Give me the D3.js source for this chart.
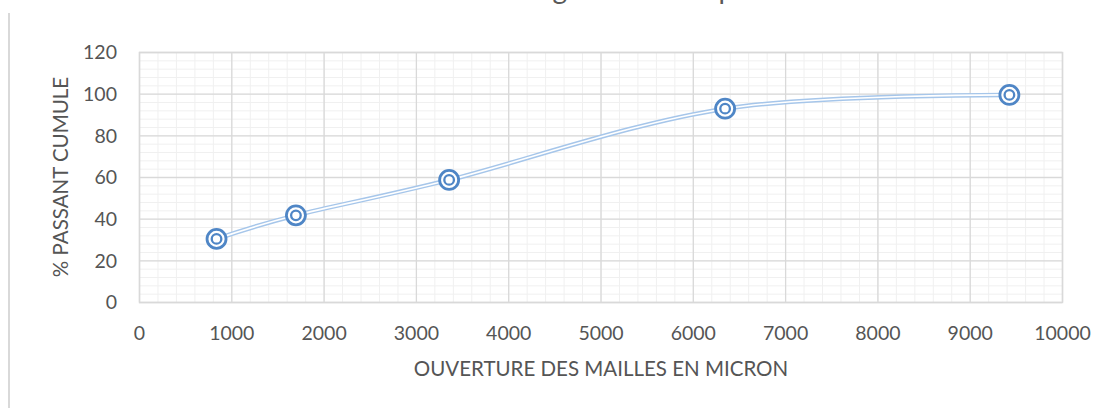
<!DOCTYPE html>
<html><head><meta charset="utf-8">
<script src="https://cdn.jsdelivr.net/npm/d3@7"></script>
<style>html,body{margin:0;padding:0;background:#fff;}svg{display:block;}</style>
</head><body>
<svg id="c" width="1109" height="408"></svg>
<script>
const openings = [840, 1700, 3360, 6350, 9430];
const passing = [30.3, 41.6, 58.6, 92.8, 99.4];
const xTicks = [0,1000,2000,3000,4000,5000,6000,7000,8000,9000,10000];
const yTicks = [0,20,40,60,80,100,120];
const titleText = "Courbe granulométrique";
const xTitle = "OUVERTURE DES MAILLES EN MICRON";
const yTitle = "% PASSANT CUMULE";

const svg = d3.select("#c");
const font = "Lato, 'Open Sans', sans-serif";
const txt = "#555555";
const L = 139, R = 1062, T = 52, B = 302;
const x = d3.scaleLinear().domain([0,10000]).range([L,R]);
const y = d3.scaleLinear().domain([0,120]).range([B,T]);

// chart frame left edge
svg.append("line").attr("x1",9).attr("x2",9).attr("y1",13).attr("y2",408)
  .attr("stroke","#d9d9d9").attr("stroke-width",2);

// title, almost entirely above the visible area (only descenders show)
svg.append("text").attr("x",605).attr("y",-1).attr("text-anchor","middle")
  .attr("font-family",font).attr("font-size",28).attr("fill","#595959").text(titleText);

// minor grid
const g = svg.append("g");
g.selectAll(".mx").data(d3.range(0,10001,200)).enter().append("line")
  .attr("x1",d=>x(d)+0.5).attr("x2",d=>x(d)+0.5).attr("y1",T).attr("y2",B)
  .attr("stroke","#f0f0f0").attr("stroke-width",1);
g.selectAll(".my").data(d3.range(0,121,4)).enter().append("line")
  .attr("y1",d=>y(d)+0.5).attr("y2",d=>y(d)+0.5).attr("x1",L).attr("x2",R)
  .attr("stroke","#f0f0f0").attr("stroke-width",1);
// major grid
g.selectAll(".Mx").data(xTicks).enter().append("line")
  .attr("x1",d=>x(d)+0.5).attr("x2",d=>x(d)+0.5).attr("y1",T).attr("y2",B)
  .attr("stroke","#d9d9d9").attr("stroke-width",1.3);
g.selectAll(".My").data(yTicks).enter().append("line")
  .attr("y1",d=>y(d)+0.5).attr("y2",d=>y(d)+0.5).attr("x1",L).attr("x2",R)
  .attr("stroke","#d9d9d9").attr("stroke-width",1.3);
g.append("rect").attr("x",L+0.5).attr("y",T+0.5).attr("width",R-L).attr("height",B-T)
  .attr("fill","none").attr("stroke","#d9d9d9").attr("stroke-width",1.5);

// axes (labels only)
const xAxis = d3.axisBottom(x).tickValues(xTicks).tickFormat(d3.format("d")).tickSize(0).tickPadding(0);
const xa = svg.append("g").attr("transform",`translate(0,${B})`).call(xAxis);
xa.select(".domain").remove();
xa.selectAll("text").attr("font-family",font).attr("font-size",19.5).attr("fill",txt)
  .attr("dy",null).attr("y",38);
const yAxis = d3.axisLeft(y).tickValues(yTicks).tickFormat(d3.format("d")).tickSize(0).tickPadding(0);
const ya = svg.append("g").attr("transform",`translate(117,0)`).call(yAxis);
ya.select(".domain").remove();
ya.selectAll("text").attr("font-family",font).attr("font-size",19.5).attr("fill",txt)
  .attr("dy","0.35em");

// axis titles
svg.append("text").attr("x",601).attr("y",376).attr("text-anchor","middle")
  .attr("font-family",font).attr("font-size",20.5).attr("fill",txt).text(xTitle);
svg.append("text").attr("transform",`translate(68,177) rotate(-90)`).attr("text-anchor","middle")
  .attr("font-family",font).attr("font-size",20.5).attr("fill",txt).text(yTitle);

// series line (double line)
const pts = openings.map((d,i)=>[d,passing[i]]);
const line = d3.line().x(d=>x(d[0])).y(d=>y(d[1])).curve(d3.curveCardinal.tension(0));
svg.append("path").attr("d",line(pts)).attr("fill","none").attr("stroke","#a6c6ea").attr("stroke-width",4.5);
svg.append("path").attr("d",line(pts)).attr("fill","none").attr("stroke","#ffffff").attr("stroke-width",1.6);

// markers
const m = svg.selectAll(".mk").data(pts).enter().append("g")
  .attr("transform",d=>`translate(${x(d[0])},${y(d[1])})`);
m.append("circle").attr("r",9.5).attr("fill","#fff").attr("stroke","#4f86c6").attr("stroke-width",2.8);
m.append("circle").attr("r",4.8).attr("fill","#fff").attr("stroke","#4f86c6").attr("stroke-width",2.3);
</script>
</body></html>
